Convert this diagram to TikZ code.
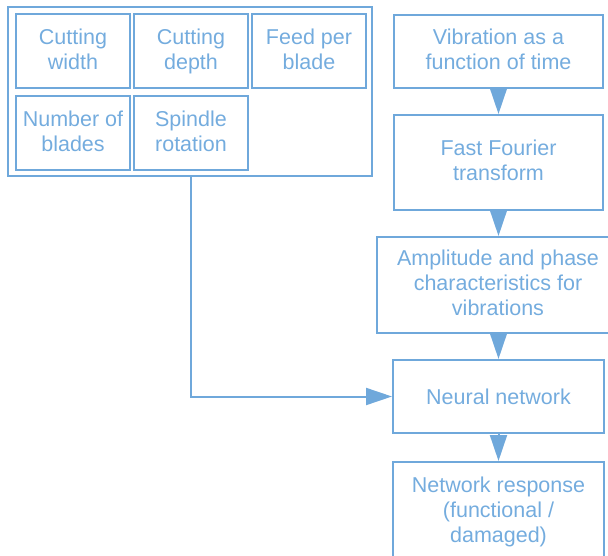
\documentclass[tikz,border=0pt]{standalone}
\usepackage{fontspec}
\setmainfont{Liberation Sans}
\usetikzlibrary{arrows.meta}
\definecolor{lineblue}{RGB}{111,168,219}
\definecolor{textblue}{RGB}{116,172,222}
\newcommand{\topstrut}{\rule{0pt}{20.5pt}}
\newcommand{\botstrut}{\rule[-4.5pt]{0pt}{4.5pt}}
\tikzset{
  box/.style={draw=lineblue, line width=2pt, inner sep=0pt, align=center,
    text=textblue, font=\fontsize{21.5}{25}\selectfont,
    execute at begin node=\topstrut, execute at end node=\botstrut},
  conn/.style={draw=lineblue, line width=2pt,
    -{Triangle[width=17pt,length=26pt,fill=lineblue]}},
}
\begin{document}
\begin{tikzpicture}[x=1pt,y=-1pt]
\useasboundingbox (0,0) rectangle (608,556);
\clip (0,0) rectangle (608,556);
% left group
\node[box, minimum width=364pt, minimum height=169pt] (grp) at (190,91.5) {};
\node[box, minimum width=114pt, minimum height=74pt] (cw) at (73,51) {Cutting\\width};
\node[box, minimum width=114pt, minimum height=74pt] (cd) at (191,51) {Cutting\\depth};
\node[box, minimum width=114pt, minimum height=74pt] (fpb) at (309,51) {Feed per\\blade};
\node[box, minimum width=114pt, minimum height=74pt] (nob) at (73,133) {Number of\\blades};
\node[box, minimum width=114pt, minimum height=74pt] (sr) at (191,133) {Spindle\\rotation};
% right column
\node[box, minimum width=209pt, minimum height=73pt] (vib) at (498.5,51.5) {Vibration as a\\function of time};
\node[box, minimum width=209pt, minimum height=95pt] (fft) at (498.5,162.5) {Fast Fourier\\transform};
\node[box, minimum width=242pt, minimum height=96pt] (amp) at (498,285) {Amplitude and phase\\characteristics for\\vibrations};
\node[box, minimum width=211pt, minimum height=73pt] (nn) at (498.5,396.5) {Neural network};
\node[box, minimum width=211pt, minimum height=100pt] (resp) at (498.5,512) {Network response\\(functional /\\damaged)};
% connectors
\draw[conn] (vib.south) -- (fft.north);
\draw[conn] (fft.south) -- (amp.north -| fft.south);
\draw[conn] (amp.south -| nn.north) -- (nn.north);
\draw[conn] (nn.south) -- (resp.north);
\coordinate (bend) at (191,396.5);
\draw[conn] (grp.south -| sr.south) -- (bend) -- (nn.west);
\end{tikzpicture}
\end{document}
